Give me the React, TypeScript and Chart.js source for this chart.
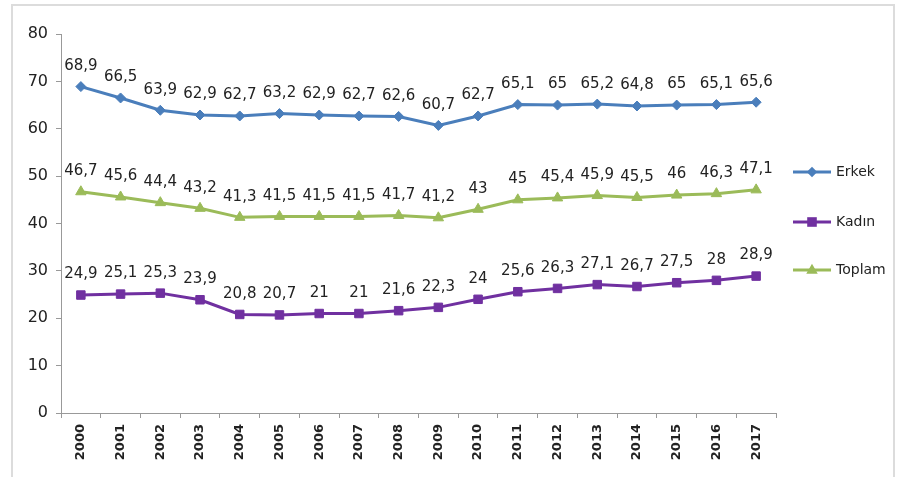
import React, { useEffect, useRef } from "react";
import { Chart, registerables } from "chart.js";

Chart.register(...registerables);

const years = ["2000","2001","2002","2003","2004","2005","2006","2007","2008","2009","2010","2011","2012","2013","2014","2015","2016","2017"];
const erkek = [68.9, 66.5, 63.9, 62.9, 62.7, 63.2, 62.9, 62.7, 62.6, 60.7, 62.7, 65.1, 65, 65.2, 64.8, 65, 65.1, 65.6];
const kadin = [24.9, 25.1, 25.3, 23.9, 20.8, 20.7, 21, 21, 21.6, 22.3, 24, 25.6, 26.3, 27.1, 26.7, 27.5, 28, 28.9];
const toplam = [46.7, 45.6, 44.4, 43.2, 41.3, 41.5, 41.5, 41.5, 41.7, 41.2, 43, 45, 45.4, 45.9, 45.5, 46, 46.3, 47.1];
const seriesNames = ["Erkek", "Kadın", "Toplam"];
const seriesColors = ["#4A7EBB", "#7030A0", "#9BBB59"];
const seriesMarkers = ["rectRot", "rect", "triangle"];
const yTicks = [0, 10, 20, 30, 40, 50, 60, 70, 80];

const FONT = "'DejaVu Sans', Verdana, sans-serif";

const fmt = (v: number) => String(v).replace(".", ",");

const labelPlugin = {
  id: "valueLabels",
  afterDatasetsDraw(chart: any) {
    const ctx = chart.ctx;
    ctx.save();
    ctx.font = `15px ${FONT}`;
    ctx.fillStyle = "#222";
    ctx.textAlign = "center";
    ctx.textBaseline = "bottom";
    chart.data.datasets.forEach((ds: any, i: number) => {
      const meta = chart.getDatasetMeta(i);
      meta.data.forEach((pt: any, j: number) => {
        ctx.fillText(fmt(ds.data[j]), pt.x, pt.y - 13);
      });
    });
    ctx.restore();
  },
};

function drawMarker(ctx: any, style: string, r: number, x: number, y: number) {
  ctx.beginPath();
  if (style === "rectRot") {
    ctx.moveTo(x, y - r * 1.3);
    ctx.lineTo(x + r * 1.3, y);
    ctx.lineTo(x, y + r * 1.3);
    ctx.lineTo(x - r * 1.3, y);
  } else if (style === "rect") {
    ctx.rect(x - r, y - r, r * 2, r * 2);
  } else {
    ctx.moveTo(x, y - r * 1.3);
    ctx.lineTo(x + r * 1.2, y + r * 0.8);
    ctx.lineTo(x - r * 1.2, y + r * 0.8);
  }
  ctx.closePath();
  ctx.fill();
}

const legendPlugin = {
  id: "sideLegend",
  afterDraw(chart: any) {
    const ctx = chart.ctx;
    const ys = [172, 222, 270];
    ctx.save();
    chart.data.datasets.forEach((ds: any, i: number) => {
      const y = ys[i];
      ctx.strokeStyle = ds.borderColor;
      ctx.fillStyle = ds.borderColor;
      ctx.lineWidth = 3;
      ctx.beginPath();
      ctx.moveTo(793, y);
      ctx.lineTo(831, y);
      ctx.stroke();
      drawMarker(ctx, ds.pointStyle, ds.pointRadius * 0.8, 812, y);
      ctx.fillStyle = "#222";
      ctx.font = `14px ${FONT}`;
      ctx.textAlign = "left";
      ctx.textBaseline = "middle";
      ctx.fillText(ds.label, 836, y);
    });
    ctx.restore();
  },
};

export default function App() {
  const ref = useRef<HTMLCanvasElement>(null);
  useEffect(() => {
    if (!ref.current) return;
    const dataSets = [erkek, kadin, toplam].map((d, i) => ({
      label: seriesNames[i],
      data: d,
      borderColor: seriesColors[i],
      backgroundColor: seriesColors[i],
      borderWidth: 3,
      pointStyle: seriesMarkers[i] as any,
      pointRadius: i === 0 ? 5 : 6,
      pointBorderWidth: 1,
      tension: 0,
    }));
    const chart = new Chart(ref.current, {
      type: "line",
      data: { labels: years, datasets: dataSets },
      options: {
        animation: false,
        responsive: false,
        devicePixelRatio: 1,
        layout: { padding: { top: 34, right: 128, bottom: 0, left: 0 } },
        plugins: { legend: { display: false }, tooltip: { enabled: false } },
        scales: {
          x: {
            type: "category",
            offset: true,
            afterFit: (s: any) => { s.height = 64; },
            grid: { display: true, drawOnChartArea: false, offset: true, tickLength: 5, color: "#999" },
            border: { color: "#999", width: 1 },
            ticks: { minRotation: 90, maxRotation: 90, autoSkip: false, color: "#222", font: { family: FONT, size: 13, weight: "bold" }, padding: 6 },
          },
          y: {
            min: 0,
            max: 80,
            afterFit: (s: any) => { s.width = 61; },
            afterBuildTicks: (s: any) => { s.ticks = yTicks.map((v) => ({ value: v })); },
            grid: { display: true, drawOnChartArea: false, tickLength: 5, color: "#999" },
            border: { color: "#999", width: 1 },
            ticks: { color: "#222", font: { family: FONT, size: 16 }, padding: 8 },
          },
        },
      },
      plugins: [labelPlugin, legendPlugin],
    });
    return () => chart.destroy();
  }, []);
  return (
    <div style={{ position: "absolute", left: 0, top: 0, width: 904, height: 477, overflow: "hidden", background: "#fff" }}>
      <div style={{ position: "absolute", left: 11, top: 4, width: 880, height: 500, border: "2px solid #dcdcdc" }} />
      <canvas ref={ref} width={904} height={477} style={{ position: "absolute", left: 0, top: 0, width: 904, height: 477 }} />
    </div>
  );
}
